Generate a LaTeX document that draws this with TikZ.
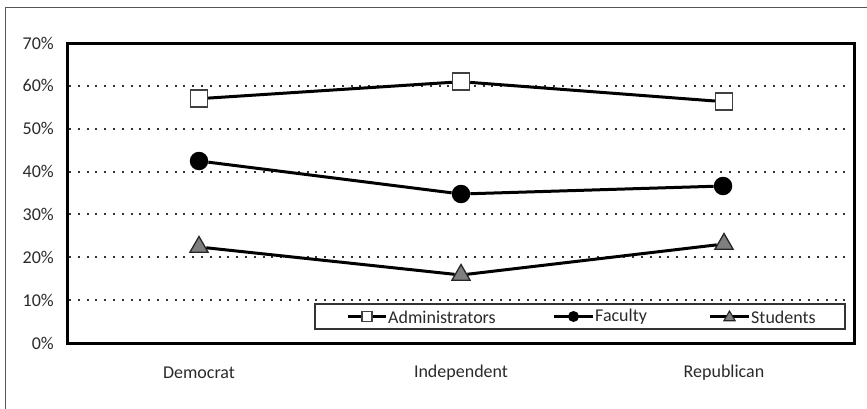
\documentclass[tikz,border=0pt]{standalone}
\usepackage{fontspec}
\setmainfont{Carlito}
\usetikzlibrary{shapes.geometric}
\definecolor{framegray}{HTML}{555555}
\definecolor{txt}{HTML}{2A2A2A}
\definecolor{trifill}{HTML}{7F7F7F}
\tikzset{
  lbl/.style={text=txt,font=\fontsize{18}{21}\selectfont,inner sep=0pt},
  grid/.style={draw=black!80,line width=2pt,dash pattern=on 2pt off 6.8pt},
  series/.style={draw=black,line width=3pt},
  sqmark/.style={draw=black!75,fill=white,line width=1.4pt,rectangle,minimum size=17pt,inner sep=0pt},
  cmark/.style={fill=black,circle,minimum size=18.5pt,inner sep=0pt},
  tmark/.style={draw=black!85,fill=trifill,line width=1.3pt,regular polygon,regular polygon sides=3,minimum size=21pt,inner sep=0pt},
  sqsmall/.style={sqmark,minimum size=10pt,line width=1.1pt},
  csmall/.style={cmark,minimum size=11pt},
  tsmall/.style={tmark,minimum size=13pt,line width=1.1pt},
  lgline/.style={draw=black,line width=2.2pt},
}
\begin{document}
\begin{tikzpicture}[x=1pt,y=-1pt]
\useasboundingbox (0,0) rectangle (867,409);
% outer frame
\draw[framegray,line width=1.8pt] (5.5,412) -- (5.5,7.5) -- (870,7.5);
% gridlines
\foreach \v in {10,20,30,40,50,60}{
  \pgfmathsetmacro{\yy}{343-4.2857*\v}
  \draw[grid] (69,\yy) -- (852,\yy);
}
% plot frame
\draw[black,line width=3pt] (67,44) rectangle (854,343);
% y tick labels
\foreach \v in {0,10,20,30,40,50,60,70}{
  \pgfmathsetmacro{\yy}{343-4.2857*\v}
  \node[lbl,anchor=east] (t\v) at (54,\yy) {\v\%};
}
% categories
\node[lbl] (cD) at (199,373) {Democrat};
\node[lbl] (cI) at (461,373) {Independent};
\node[lbl] (cR) at (724,373) {Republican};
% legend
\node[draw=black!80,line width=1.4pt,minimum width=530pt,minimum height=25pt,inner sep=0pt] (legend) at (580,316.5) {};
\coordinate (la1) at (348,316.5); \coordinate (la2) at (386,316.5);
\coordinate (lf1) at (554,316.5); \coordinate (lf2) at (593,316.5);
\coordinate (ls1) at (710,316.5); \coordinate (ls2) at (749,316.5);
\draw[lgline] (la1) -- (la2);
\draw[lgline] (lf1) -- (lf2);
\draw[lgline] (ls1) -- (ls2);
\node[sqsmall] (lam) at (367,316.5) {};
\node[csmall] (lfm) at (573.5,316.5) {};
\node[tsmall] (lsm) at (729.5,317.5) {};
\node[lbl,anchor=west] (lat) at (388,317) {Administrators};
\node[lbl,anchor=west] (lft) at (595,317) {Faculty};
\node[lbl,anchor=west] (lst) at (751,317) {Students};
% data markers
\node[sqmark] (aD) at (199,98.7) {};
\node[sqmark] (aI) at (461,81.7) {};
\node[sqmark] (aR) at (724,101.7) {};
\node[cmark] (fD) at (199,161) {};
\node[cmark] (fI) at (461,194) {};
\node[cmark] (fR) at (723,186) {};
\node[tmark] (sD) at (199,247) {};
\node[tmark] (sI) at (461,275) {};
\node[tmark] (sR) at (724,244) {};
% series lines
\draw[series] (aD) -- (aI) -- (aR);
\draw[series] (fD) -- (fI) -- (fR);
\draw[series] (sD) -- (sI) -- (sR);
\end{tikzpicture}
\end{document}
